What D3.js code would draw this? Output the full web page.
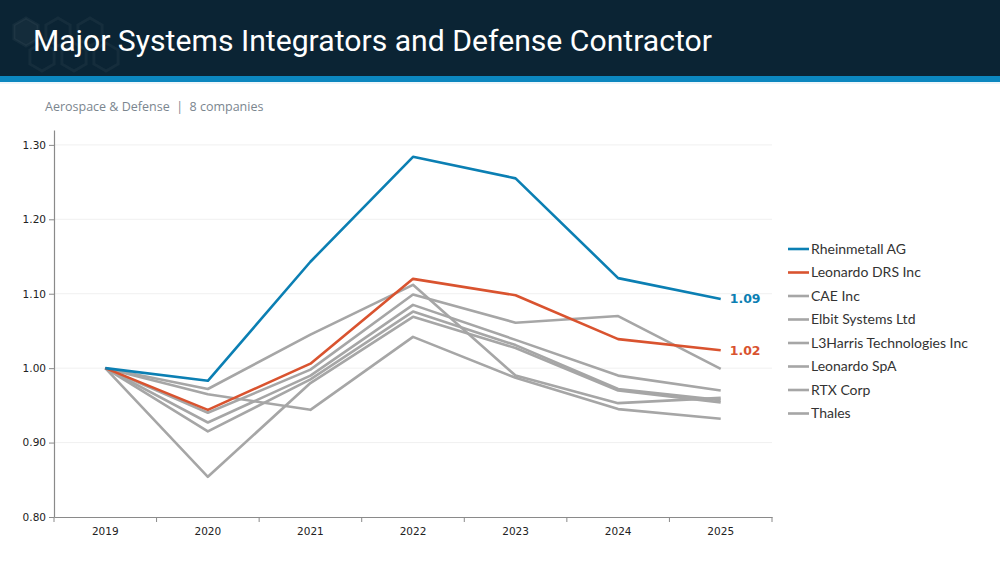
<!DOCTYPE html>
<html>
<head>
<meta charset="utf-8">
<script src="https://cdn.jsdelivr.net/npm/d3@7"></script>
<style>
  body { margin: 0; background: #fff; }
  svg { display: block; }
</style>
</head>
<body>
<div id="chart"></div>
<script>
var years = ["2019", "2020", "2021", "2022", "2023", "2024", "2025"];
var companies = ["Rheinmetall AG", "Leonardo DRS Inc", "CAE Inc", "Elbit Systems Ltd",
                 "L3Harris Technologies Inc", "Leonardo SpA", "RTX Corp", "Thales"];
var rheinmetall = [1.00, 0.983, 1.143, 1.284, 1.255, 1.121, 1.093];
var leonardoDrs = [1.00, 0.944, 1.006, 1.120, 1.098, 1.039, 1.024];
var cae         = [1.00, 0.854, 0.980, 1.069, 1.027, 0.970, 0.954];
var elbit       = [1.00, 0.940, 0.998, 1.099, 1.061, 1.070, 0.999];
var l3harris    = [1.00, 0.972, 1.045, 1.112, 0.990, 0.953, 0.960];
var leonardoSpa = [1.00, 0.965, 0.944, 1.042, 0.987, 0.945, 0.932];
var rtx         = [1.00, 0.927, 0.990, 1.085, 1.038, 0.990, 0.970];
var thales      = [1.00, 0.915, 0.985, 1.076, 1.031, 0.972, 0.957];
var yTicks = [0.80, 0.90, 1.00, 1.10, 1.20, 1.30];

var series = [rheinmetall, leonardoDrs, cae, elbit, l3harris, leonardoSpa, rtx, thales];
var colors = ["#0b7fb3", "#d9532f", "#a6a6a6", "#a6a6a6", "#a6a6a6", "#a6a6a6", "#a6a6a6", "#a6a6a6"];

var width = 1000, height = 562;

var svg = d3.select("#chart").append("svg")
    .attr("width", width)
    .attr("height", height);

// header
svg.append("rect").attr("x", 0).attr("y", 0).attr("width", width).attr("height", 76).attr("fill", "#0b2434");
svg.append("rect").attr("x", 0).attr("y", 76).attr("width", width).attr("height", 6).attr("fill", "#0c87bf");
svg.append("rect").attr("x", 0).attr("y", 82).attr("width", width).attr("height", 2).attr("fill", "#eef6fa");

// faint hexagon watermark
var hex = d3.range(6).map(function(i) {
  var a = Math.PI / 3 * i + Math.PI / 6;
  return [Math.cos(a) * 14, Math.sin(a) * 14];
});
[[26, 32], [58, 32], [42, 57], [74, 57], [90, 32], [106, 57]].forEach(function(c, i) {
  svg.append("polygon")
      .attr("points", hex.map(function(p) { return (p[0] + c[0]) + "," + (p[1] + c[1]); }).join(" "))
      .attr("fill", i == 0 ? "rgba(255,255,255,0.04)" : "none")
      .attr("stroke", "rgba(255,255,255,0.045)")
      .attr("stroke-width", 3);
});

svg.append("text")
    .attr("x", 33).attr("y", 51)
    .attr("fill", "#fff")
    .attr("font-family", "Roboto, sans-serif")
    .attr("font-size", 30)
    .attr("textLength", 679)
    .attr("lengthAdjust", "spacingAndGlyphs")
    .text("Major Systems Integrators and Defense Contractor");

svg.append("text")
    .attr("x", 45).attr("y", 111)
    .attr("fill", "#7b868f")
    .attr("font-family", "'Open Sans', sans-serif")
    .attr("font-size", 12.5)
    .attr("xml:space", "preserve")
    .text("Aerospace & Defense  |  8 companies");

// scales
var x = d3.scaleBand().domain(years).range([54, 772]);
var y = d3.scaleLinear().domain([0.8, 1.32]).range([517, 130]);

// gridlines
svg.append("g").selectAll("line")
    .data(yTicks.slice(1))
  .enter().append("line")
    .attr("x1", 54).attr("x2", 772)
    .attr("y1", function(d) { return y(d); })
    .attr("y2", function(d) { return y(d); })
    .attr("stroke", "#f0f0f0");

var yAxis = svg.append("g")
    .attr("transform", "translate(54,0)")
    .call(d3.axisLeft(y).tickValues(yTicks).tickFormat(d3.format(".2f")).tickSize(5).tickSizeOuter(0));

var xAxis = svg.append("g")
    .attr("transform", "translate(0,517)")
    .call(d3.axisBottom(x).tickSize(0).tickPadding(11));

// band boundary ticks on x axis
svg.append("g").selectAll("line")
    .data(years.concat(["end"]))
  .enter().append("line")
    .attr("x1", function(d, i) { return i < years.length ? x(d) : x.range()[1]; })
    .attr("x2", function(d, i) { return i < years.length ? x(d) : x.range()[1]; })
    .attr("y1", 517).attr("y2", 522)
    .attr("stroke", "#8a8a8a");

[yAxis, xAxis].forEach(function(a) {
  a.select(".domain").attr("stroke", "#8a8a8a").attr("stroke-width", 1.2);
  a.selectAll(".tick line").attr("stroke", "#8a8a8a");
  a.selectAll("text")
      .attr("fill", "#222")
      .attr("font-family", "'DejaVu Sans', Verdana, sans-serif")
      .attr("font-size", 10.5);
});

var line = d3.line()
    .x(function(d, i) { return x(years[i]) + x.bandwidth() / 2; })
    .y(function(d) { return y(d); });

// grey first, highlighted on top
var order = d3.range(series.length).reverse();
svg.append("g").selectAll("path")
    .data(order)
  .enter().append("path")
    .attr("d", function(i) { return line(series[i]); })
    .attr("fill", "none")
    .attr("stroke", function(i) { return colors[i]; })
    .attr("stroke-width", 2.6)
    .attr("stroke-linejoin", "round");

// end labels
[0, 1].forEach(function(i) {
  var v = series[i][years.length - 1];
  svg.append("text")
      .attr("x", x(years[years.length - 1]) + x.bandwidth() / 2 + 9)
      .attr("y", y(v))
      .attr("dy", "0.35em")
      .attr("fill", colors[i])
      .attr("font-family", "'DejaVu Sans', Verdana, sans-serif")
      .attr("font-weight", "bold")
      .attr("font-size", 12.5)
      .text(d3.format(".2f")(v));
});

// legend
var legend = svg.append("g").selectAll("g")
    .data(companies)
  .enter().append("g")
    .attr("transform", function(d, i) { return "translate(788," + (249 + i * 23.5) + ")"; });

legend.append("line")
    .attr("x1", 0).attr("x2", 21)
    .attr("stroke", function(d, i) { return colors[i]; })
    .attr("stroke-width", 2.6);

legend.append("text")
    .attr("x", 23)
    .attr("dy", "0.35em")
    .attr("fill", "#333")
    .attr("font-family", "Lato, sans-serif")
    .attr("font-size", 14)
    .text(function(d) { return d; });
</script>
</body>
</html>
